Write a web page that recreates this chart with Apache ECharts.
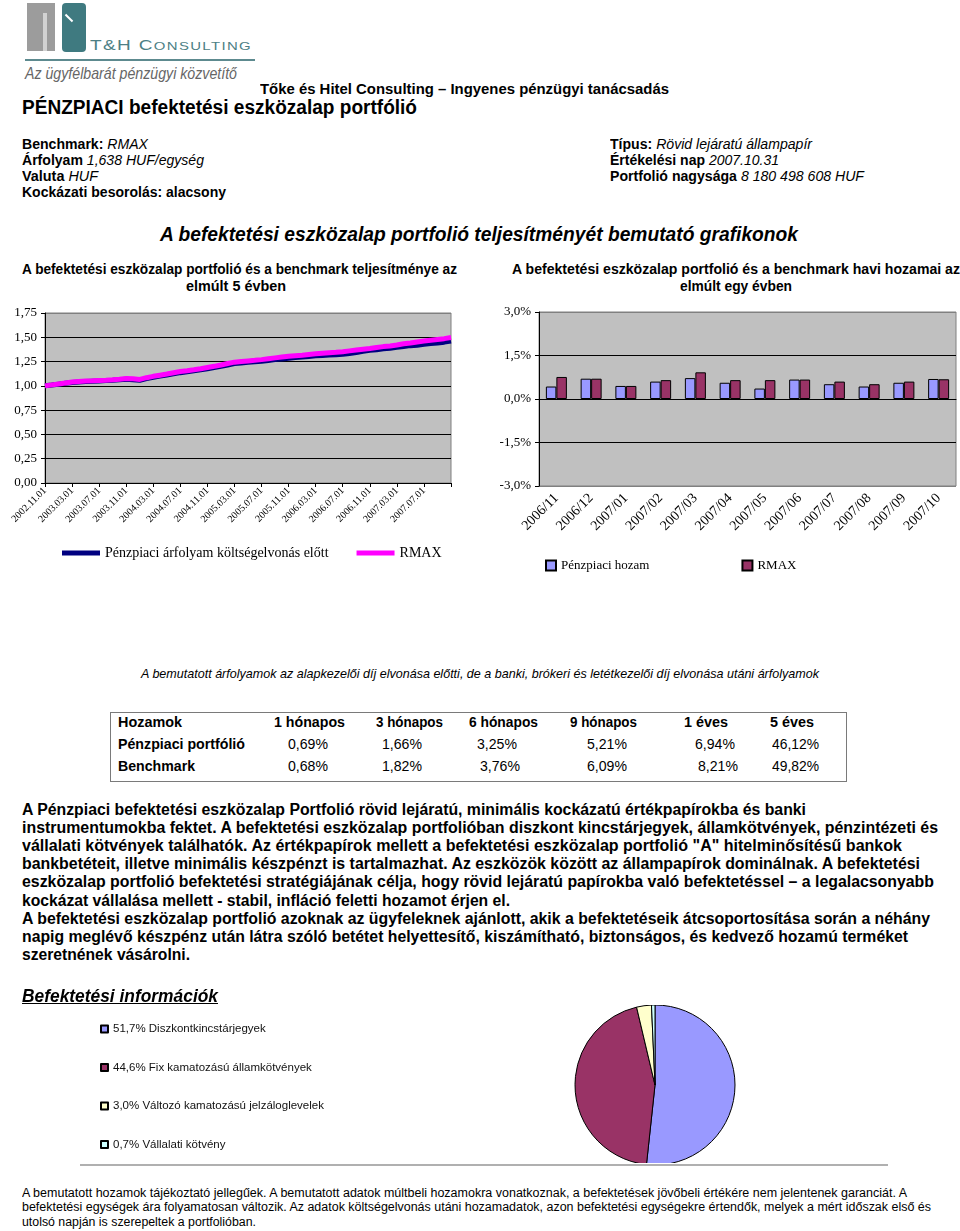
<!DOCTYPE html>
<html>
<head>
<meta charset="utf-8">
<script src="https://cdn.jsdelivr.net/npm/echarts@6.0.0/dist/echarts.min.js"></script>
<style>
  html, body { margin: 0; padding: 0; background: #fff; }
  body { position: relative; width: 960px; height: 1231px; overflow: hidden;
         font-family: "Liberation Sans", Arial, sans-serif; color: #000; }
  .t { position: absolute; white-space: nowrap; line-height: 1; transform-origin: 0 50%; }
  .box { position: absolute; }
  .chart { position: absolute; }
</style>
</head>
<body>

<!-- logo -->
<div class="box" style="left:27px;top:3px;width:28px;height:48px;background:#d2d2d2"></div>
<div class="box" style="left:27px;top:3px;width:28px;height:10px;background:#9c9c9c"></div>
<div class="box" style="left:27px;top:13px;width:16px;height:38px;background:#9c9c9c"></div>
<div class="box" style="left:47px;top:13px;width:8px;height:38px;background:#9c9c9c"></div>
<div class="box" style="left:62px;top:3px;width:24px;height:49px;background:#3f7a80;border-radius:4px"></div>
<div class="box" style="left:64px;top:17px;width:10px;height:2px;background:#fff;transform:rotate(45deg)"></div>
<div class="box" style="left:25px;top:59px;width:230px;height:2px;background:#5d8a8f"></div>

<div id="line" class="chart" style="left:0;top:295px;width:480px;height:285px"></div>
<div id="bars" class="chart" style="left:480px;top:295px;width:480px;height:290px"></div>
<div id="pie" class="chart" style="left:80px;top:1005px;width:820px;height:158px"></div>
<div class="box" style="left:110px;top:712px;width:735px;height:68px;border:1px solid #7a7a7a"></div>
<div class="box" style="left:80px;top:1164px;width:808px;height:2px;background:#b0b0b0"></div>

<script>
// ---- line chart: monthly prices, last 5 years ----
const lineDates = [
  '2002.11.01','2002.12.01','2003.01.01','2003.02.01','2003.03.01','2003.04.01','2003.05.01','2003.06.01',
  '2003.07.01','2003.08.01','2003.09.01','2003.10.01','2003.11.01','2003.12.01','2004.01.01','2004.02.01',
  '2004.03.01','2004.04.01','2004.05.01','2004.06.01','2004.07.01','2004.08.01','2004.09.01','2004.10.01',
  '2004.11.01','2004.12.01','2005.01.01','2005.02.01','2005.03.01','2005.04.01','2005.05.01','2005.06.01',
  '2005.07.01','2005.08.01','2005.09.01','2005.10.01','2005.11.01','2005.12.01','2006.01.01','2006.02.01',
  '2006.03.01','2006.04.01','2006.05.01','2006.06.01','2006.07.01','2006.08.01','2006.09.01','2006.10.01',
  '2006.11.01','2006.12.01','2007.01.01','2007.02.01','2007.03.01','2007.04.01','2007.05.01','2007.06.01',
  '2007.07.01','2007.08.01','2007.09.01','2007.10.01','2007.11.01'
];
const fundPrice = [
  1.000,1.008,1.017,1.026,1.035,1.040,1.045,1.048,1.051,1.054,1.057,1.062,1.068,1.064,1.057,1.074,
  1.088,1.100,1.112,1.124,1.136,1.145,1.155,1.165,1.176,1.188,1.201,1.215,1.229,1.236,1.242,1.248,
  1.254,1.262,1.270,1.277,1.285,1.291,1.297,1.303,1.309,1.313,1.317,1.321,1.326,1.334,1.344,1.355,
  1.366,1.372,1.382,1.388,1.396,1.406,1.414,1.419,1.428,1.436,1.442,1.450,1.461
];
const rmaxPrice = [
  1.000,1.010,1.020,1.030,1.040,1.045,1.050,1.052,1.055,1.058,1.062,1.068,1.075,1.072,1.066,1.084,
  1.098,1.110,1.122,1.135,1.147,1.156,1.166,1.177,1.189,1.201,1.215,1.230,1.244,1.251,1.257,1.263,
  1.270,1.279,1.288,1.296,1.304,1.310,1.316,1.323,1.330,1.335,1.340,1.345,1.352,1.360,1.368,1.376,
  1.384,1.395,1.404,1.411,1.420,1.433,1.442,1.452,1.461,1.470,1.478,1.486,1.498
];
const lineNames = ['Pénzpiaci árfolyam költségelvonás előtt', 'RMAX'];

// ---- bar chart: monthly returns, last year (%) ----
const months = ['2006/11','2006/12','2007/01','2007/02','2007/03','2007/04','2007/05','2007/06','2007/07','2007/08','2007/09','2007/10'];
const fundMonthly = [0.43, 0.70, 0.45, 0.60, 0.72, 0.56, 0.36, 0.67, 0.51, 0.43, 0.56, 0.69];
const rmaxMonthly = [0.76, 0.70, 0.45, 0.65, 0.92, 0.65, 0.65, 0.67, 0.60, 0.51, 0.60, 0.68];
const barNames = ['Pénzpiaci hozam', 'RMAX'];

// ---- returns table ----
const tableHeads = ['Hozamok', '1 hónapos', '3 hónapos', '6 hónapos', '9 hónapos', '1 éves', '5 éves'];
const fundReturns = ['Pénzpiaci portfólió', '0,69%', '1,66%', '3,25%', '5,21%', '6,94%', '46,12%'];
const benchReturns = ['Benchmark', '0,68%', '1,82%', '3,76%', '6,09%', '8,21%', '49,82%'];

// ---- pie: asset mix (%) ----
const assetNames = ['Diszkontkincstárjegyek', 'Fix kamatozású államkötvények', 'Változó kamatozású jelzáloglevelek', 'Vállalati kötvény'];
const assetShares = [51.7, 44.6, 3.0, 0.7];

function put(html, x, y, w, fs, css) {
  const d = document.createElement('div');
  d.className = 't';
  d.innerHTML = html;
  d.style.cssText = 'left:' + x + 'px;top:' + (y - fs / 2) + 'px;font-size:' + fs + 'px;' + (css || '');
  document.body.appendChild(d);
  const nat = d.getBoundingClientRect().width;
  if (w && nat) d.style.transform = 'scaleX(' + (w / nat) + ')';
}

// header texts
put('T&amp;H C<span style="font-size:11px">ONSULTING</span>', 90, 45, 162, 14, 'color:#4d7f85;letter-spacing:1px');
put('Az ügyfélbarát pénzügyi közvetítő', 25, 73, 212, 17, 'color:#666;font-style:italic');
put('Tőke és Hitel Consulting – Ingyenes pénzügyi tanácsadás', 260, 88, 409, 15, 'font-weight:bold');
put('PÉNZPIACI befektetési eszközalap portfólió', 22, 107, 395, 20, 'font-weight:bold');
put('<b>Benchmark:</b> <i>RMAX</i>', 22, 144, 126, 14);
put('<b>Árfolyam</b> <i>1,638 HUF/egység</i>', 22, 160, 182, 14);
put('<b>Valuta</b> <i>HUF</i>', 22, 176, 76, 14);
put('<b>Kockázati besorolás: alacsony</b>', 22, 192, 204, 14);
put('<b>Típus:</b> <i>Rövid lejáratú állampapír</i>', 610, 144, 202, 14);
put('<b>Értékelési nap</b> <i>2007.10.31</i>', 610, 160, 169, 14);
put('<b>Portfolió nagysága</b> <i>8 180 498 608 HUF</i>', 610, 176, 254, 14);
put('A befektetési eszközalap portfolió teljesítményét bemutató grafikonok', 160, 233, 638, 21, 'font-weight:bold;font-style:italic');
put('A befektetési eszközalap portfolió és a benchmark teljesítménye az', 22, 268, 435, 15, 'font-weight:bold');
put('elmúlt 5 évben', 186, 285, 100, 15, 'font-weight:bold');
put('A befektetési eszközalap portfolió és a benchmark havi hozamai az', 512, 268, 448, 15, 'font-weight:bold');
put('elmúlt egy évben', 680, 285, 112, 15, 'font-weight:bold');
put('A bemutatott árfolyamok az alapkezelői díj elvonása előtti, de a banki, brókeri és letétkezelői díj elvonása utáni árfolyamok', 141, 673, 678, 13, 'font-style:italic');

// table
const colX = [118, 274, 376, 469, 570, 684, 770];
const colW = [64, 71, 67, 69, 67, 44, 44];
tableHeads.forEach((h, i) => put(h, colX[i], 721, colW[i], 15, 'font-weight:bold'));
const valX = [118, 288, 382, 477, 587, 695, 772];
const benchX = [118, 288, 382, 480, 587, 698, 772];
fundReturns.forEach((v, i) => put(v, valX[i], 743, i === 0 ? 127 : (i === 6 ? 47 : 40), 15, i === 0 ? 'font-weight:bold' : ''));
benchReturns.forEach((v, i) => put(v, benchX[i], 765, i === 0 ? 77 : (i === 6 ? 47 : 40), 15, i === 0 ? 'font-weight:bold' : ''));

// description paragraph
const para = [
  ['A Pénzpiaci befektetési eszközalap Portfolió rövid lejáratú, minimális kockázatú értékpapírokba és banki', 784],
  ['instrumentumokba fektet. A befektetési eszközalap portfolióban diszkont kincstárjegyek, államkötvények, pénzintézeti és', 916],
  ['vállalati kötvények találhatók. Az értékpapírok mellett a befektetési eszközalap portfolió "A" hitelminősítésű bankok', 880],
  ['bankbetéteit, illetve minimális készpénzt is tartalmazhat. Az eszközök között az állampapírok dominálnak. A befektetési', 898],
  ['eszközalap portfolió befektetési stratégiájának célja, hogy rövid lejáratú papírokba való befektetéssel – a legalacsonyabb', 912],
  ['kockázat vállalása mellett - stabil, infláció feletti hozamot érjen el.', 488],
  ['A befektetési eszközalap portfolió azoknak az ügyfeleknek ajánlott, akik a befektetéseik átcsoportosítása során a néhány', 908],
  ['napig meglévő készpénz után látra szóló betétet helyettesítő, kiszámítható, biztonságos, és kedvező hozamú terméket', 886],
  ['szeretnének vásárolni.', 168]
];
para.forEach((p, i) => put(p[0], 22, 810 + i * 18.1, p[1], 16, 'font-weight:bold'));

put('Befektetési információk', 22, 996, 196, 18, 'font-weight:bold;font-style:italic;text-decoration:underline');

put('A bemutatott hozamok tájékoztató jellegűek. A bemutatott adatok múltbeli hozamokra vonatkoznak, a befektetések jövőbeli értékére nem jelentenek garanciát. A', 22, 1193, 885, 12);
put('befektetési egységek ára folyamatosan változik. Az adatok költségelvonás utáni hozamadatok, azon befektetési egységekre értendők, melyek a mért időszak első és', 22, 1207, 909, 12);
put('utolsó napján is szerepeltek a portfolióban.', 22, 1222, 234, 12);

// ---- charts ----
const serif = '"Liberation Serif", "Times New Roman", serif';

const lineChart = echarts.init(document.getElementById('line'));
lineChart.setOption({
  animation: false,
  textStyle: { fontFamily: serif },
  grid: { left: 45, top: 18, width: 406, height: 170, outerBoundsMode: 'none', show: true, backgroundColor: '#c0c0c0', borderColor: '#808080', borderWidth: 1 },
  legend: {
    left: 57, top: 246, itemWidth: 38, itemHeight: 5, itemGap: 28, icon: 'rect',
    textStyle: { fontFamily: serif, fontSize: 14, color: '#000' },
    data: lineNames
  },
  xAxis: {
    type: 'category', data: lineDates, boundaryGap: false,
    axisLine: { lineStyle: { color: '#000', width: 1 } },
    axisTick: { interval: (i) => i % 4 === 0, length: 4, lineStyle: { color: '#000' } },
    axisLabel: { interval: (i) => i % 4 === 0 && i < 60, rotate: 45, fontSize: 10, color: '#000', fontFamily: serif, margin: 6 }
  },
  yAxis: {
    type: 'value', min: 0, max: 1.75, interval: 0.25,
    axisLine: { show: true, lineStyle: { color: '#000' } },
    axisTick: { show: true, length: 4, lineStyle: { color: '#000' } },
    axisLabel: { formatter: (v) => v.toFixed(2).replace('.', ','), fontSize: 13, color: '#000', fontFamily: serif, margin: 8 },
    splitLine: { lineStyle: { color: ['#000', '#000', '#000', '#000', '#000', '#000', '#000', '#808080'], width: 1.2 } }
  },
  series: [
    { name: lineNames[0], type: 'line', data: fundPrice, showSymbol: false, color: '#000080', lineStyle: { width: 5 }, z: 2 },
    { name: lineNames[1], type: 'line', data: rmaxPrice, showSymbol: false, color: '#ff00ff', lineStyle: { width: 5 }, z: 3 }
  ]
});

const barChart = echarts.init(document.getElementById('bars'));
barChart.setOption({
  animation: false,
  textStyle: { fontFamily: serif },
  grid: { left: 59, top: 17, width: 417, height: 174, outerBoundsMode: 'none', show: true, backgroundColor: '#c0c0c0', borderColor: '#808080', borderWidth: 1 },
  legend: {
    left: 65, top: 264, padding: 0, itemWidth: 10, itemHeight: 10, itemGap: 92, icon: 'rect',
    textStyle: { fontFamily: serif, fontSize: 13, color: '#000' },
    data: barNames
  },
  xAxis: [
    {
      // labels along the bottom edge
      type: 'category', data: months, position: 'bottom',
      axisLine: { show: false, onZero: false }, axisTick: { show: false },
      axisLabel: { rotate: 45, fontSize: 14, color: '#000', fontFamily: serif, margin: 10, interval: 0 }
    },
    {
      // axis line with ticks crossing at 0%
      type: 'category', data: months, position: 'top',
      axisLine: { onZero: true, lineStyle: { color: '#000', width: 1 } },
      axisTick: { inside: true, length: 4, lineStyle: { color: '#000' } },
      axisLabel: { show: false }
    }
  ],
  yAxis: {
    type: 'value', min: -3, max: 3, interval: 1.5,
    axisLine: { show: true, lineStyle: { color: '#000' } },
    axisTick: { show: true, length: 4, lineStyle: { color: '#000' } },
    axisLabel: { formatter: (v) => v.toFixed(1).replace('.', ',') + '%', fontSize: 13, color: '#000', fontFamily: serif, margin: 8 },
    splitLine: { lineStyle: { color: ['#808080', '#000', '#000', '#000', '#808080'], width: 1.2 } }
  },
  series: [
    { name: barNames[0], type: 'bar', data: fundMonthly, barWidth: 10.5, barGap: '0%', itemStyle: { color: '#9999ff', borderColor: '#000', borderWidth: 1 } },
    { name: barNames[1], type: 'bar', data: rmaxMonthly, barWidth: 10.5, barGap: '0%', itemStyle: { color: '#993366', borderColor: '#000', borderWidth: 1 } }
  ]
});

const pieColors = ['#9999ff', '#993366', '#ffffcc', '#ccffff'];
const pieChart = echarts.init(document.getElementById('pie'));
pieChart.setOption({
  animation: false,
  legend: {
    orient: 'vertical', left: 20, top: 18, padding: 0, itemWidth: 7, itemHeight: 7, itemGap: 26.5, icon: 'rect',
    textStyle: { fontFamily: '"Liberation Sans", Arial, sans-serif', fontSize: 11.5, color: '#111', lineHeight: 12 },
    formatter: (name) => {
      const i = assetNames.indexOf(name);
      return assetShares[i].toFixed(1).replace('.', ',') + '% ' + name;
    },
    data: assetNames
  },
  series: [{
    type: 'pie', center: [575, 80], radius: 80, startAngle: 90, clockwise: true,
    label: { show: false }, labelLine: { show: false },
    itemStyle: { borderColor: '#000', borderWidth: 1 },
    data: assetNames.map((n, i) => ({ name: n, value: assetShares[i], itemStyle: { color: pieColors[i] } }))
  }]
});
</script>
</body>
</html>
